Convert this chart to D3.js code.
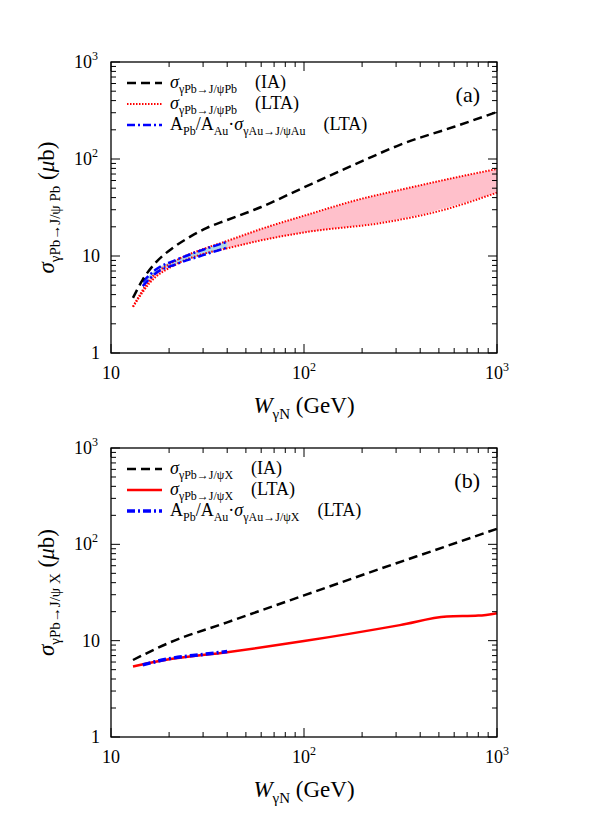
<!DOCTYPE html><html><head><meta charset="utf-8">
<script src="https://cdn.jsdelivr.net/npm/d3@7"></script>
<style>body{margin:0;background:#fff}</style></head><body>
<script>
const aW_IA=[13,14.6,17,21,26,31.4,40,60,100,200,314,600,1000], aIA=[3.7,5.7,8.5,12.2,16,19.5,23.5,32,51,95,140,215,305];
const aW_up=[13,15.9,22,30,40,60,100,200,314,600,1000], aUp=[3.0,5.7,9.1,11.8,14.3,19,26,39,48,64,79];
const aW_lo=[13,15.9,22,30,40,60,100,270,500,1000], aLo=[3.0,5.3,8.3,10.5,12,14.5,17.5,22.4,29,45];
const aW_bl=[14.6,17,22,30,40], aBlUp=[5.4,7.2,9.2,11.6,14.0], aBlLo=[4.9,6.6,8.3,10.2,12.2];
const bW_IA=[13,20,40,100,250,525,1000], bIA=[6.3,9.5,15.5,29.5,56,93,145];
const bW_LTA=[13,20,40,100,314,550,800,1000], bLTA=[5.4,6.4,7.6,9.9,14.5,17.8,18.2,19.3];
const bW_bl=[14.6,20,30,40], bBl=[5.6,6.5,7.2,7.7];
const xTicks=[10,100,1000], yTicks=[1,10,100,1000];

const svg=d3.select("body").append("svg").attr("width",608).attr("height",829)
  .attr("font-family","'Liberation Serif','DejaVu Serif','Times New Roman',serif");
const z=(a,b)=>a.map((w,i)=>[w,b[i]]);
function panel(top,bottom,tag,sub,legend,draw){
  const x=d3.scaleLog().domain([10,1000]).range([111,497]);
  const y=d3.scaleLog().domain([1,1000]).range([bottom,top]);
  const g=svg.append("g");
  const line=d3.line().x(d=>x(d[0])).y(d=>y(d[1])).curve(d3.curveMonotoneX);
  draw(g,x,y,line);
  g.append("rect").attr("x",111).attr("y",top).attr("width",386).attr("height",bottom-top).attr("fill","none").attr("stroke","#000").attr("stroke-width",1.3);
  const minorX=[];for(let d=10;d<1000;d*=10)for(let k=2;k<10;k++)minorX.push(d*k);
  const minorY=[];for(let d=1;d<1000;d*=10)for(let k=2;k<10;k++)minorY.push(d*k);
  xTicks.forEach(t=>{[[bottom,-1],[top,1]].forEach(([yy,s])=>g.append("line").attr("x1",x(t)).attr("x2",x(t)).attr("y1",yy).attr("y2",yy+s*9).attr("stroke","#000"));});
  minorX.forEach(t=>{[[bottom,-1],[top,1]].forEach(([yy,s])=>g.append("line").attr("x1",x(t)).attr("x2",x(t)).attr("y1",yy).attr("y2",yy+s*5).attr("stroke","#000"));});
  yTicks.forEach(t=>{[[111,1],[497,-1]].forEach(([xx,s])=>g.append("line").attr("y1",y(t)).attr("y2",y(t)).attr("x1",xx).attr("x2",xx+s*9).attr("stroke","#000"));});
  minorY.forEach(t=>{[[111,1],[497,-1]].forEach(([xx,s])=>g.append("line").attr("y1",y(t)).attr("y2",y(t)).attr("x1",xx).attr("x2",xx+s*5).attr("stroke","#000"));});
  const lab=(t,sel)=>{if(t<100){sel.text(t);}else{sel.text("10");sel.append("tspan").attr("dy",-8).attr("font-size",12).text(Math.log10(t));}};
  xTicks.forEach(t=>{const s=g.append("text").attr("x",x(t)).attr("y",bottom+26).attr("text-anchor","middle").attr("font-size",18);lab(t,s);});
  yTicks.forEach(t=>{const s=g.append("text").attr("x",t<100?100:98).attr("y",y(t)+6).attr("text-anchor","end").attr("font-size",18);lab(t,s);});
  const xl=g.append("text").attr("x",304).attr("y",bottom+60).attr("text-anchor","middle").attr("font-size",23);
  xl.append("tspan").attr("font-style","italic").text("W");xl.append("tspan").attr("font-size",15).attr("dy",6).text("γN");xl.append("tspan").attr("dy",-6).text(" (GeV)");
  const yl=g.append("text").attr("transform",`translate(54,${(top+bottom)/2}) rotate(-90)`).attr("text-anchor","middle").attr("font-size",23);
  yl.append("tspan").attr("font-style","italic").text("σ");yl.append("tspan").attr("font-size",15).attr("dy",6).text(sub);yl.append("tspan").attr("dy",-6).text(" (");yl.append("tspan").attr("font-style","italic").text("μ");yl.append("tspan").text("b)");
  g.append("text").attr("x",480).attr("y",top+40).attr("text-anchor","end").attr("font-size",22).text(tag);
  legend.forEach((L,i)=>{const ly=top+21+i*21;
    g.append("line").attr("x1",127).attr("x2",162).attr("y1",ly).attr("y2",ly).attr("stroke",L.c).attr("stroke-width",L.w).attr("stroke-dasharray",L.d);
    const t=g.append("text").attr("x",170).attr("y",ly+5).attr("font-size",18);
    let cur=0;
    L.t.forEach(p=>{const [txt,it,isSub,dx]=p;const s=t.append("tspan").text(txt);
      if(it)s.attr("font-style","italic");
      if(isSub)s.attr("font-size",12);
      const want=isSub?5:0; if(want!==cur){s.attr("dy",want-cur);cur=want;}
      if(dx)s.attr("dx",dx);});
  });
}
panel(62,353,"(a)","γPb→J/ψ Pb",[
  {c:"#000",w:2.5,d:"9,5",t:[["σ",1],["γPb→J/ψPb",0,1],["(IA)",0,0,18]]},
  {c:"red",w:2,d:"1.5,1.5",t:[["σ",1],["γPb→J/ψPb",0,1],["(LTA)",0,0,18]]},
  {c:"blue",w:2.5,d:"8,3,2,3",t:[["A"],["Pb",0,1],["/A"],["Au",0,1],["·"],["σ",1],["γAu→J/ψAu",0,1],["(LTA)",0,0,18]]}
],(g,x,y,line)=>{
  const area=d3.area().x(d=>x(d[0])).y0(d=>y(d[2])).y1(d=>y(d[1])).curve(d3.curveMonotoneX);
  const loI=d3.scaleLog().domain(aW_lo).range(aLo);
  g.append("path").attr("d",area(aW_up.map((w,i)=>[w,aUp[i],loI(w)]))).attr("fill","pink");
  g.append("path").attr("d",area(aW_bl.map((w,i)=>[w,aBlUp[i],aBlLo[i]]))).attr("fill","lightblue");
  [[aW_up,aUp],[aW_lo,aLo]].forEach(([w,v])=>g.append("path").attr("d",line(z(w,v))).attr("fill","none").attr("stroke","red").attr("stroke-width",2).attr("stroke-dasharray","1.5,1.5"));
  [aBlUp,aBlLo].forEach(v=>g.append("path").attr("d",line(z(aW_bl,v))).attr("fill","none").attr("stroke","blue").attr("stroke-width",2.5).attr("stroke-dasharray","8,3,2,3"));
  g.append("path").attr("d",line(z(aW_IA,aIA))).attr("fill","none").attr("stroke","#000").attr("stroke-width",2.5).attr("stroke-dasharray","9,5");
});
panel(448,737,"(b)","γPb→J/ψ X",[
  {c:"#000",w:2.5,d:"9,5",t:[["σ",1],["γPb→J/ψX",0,1],["(IA)",0,0,18]]},
  {c:"red",w:2.5,d:null,t:[["σ",1],["γPb→J/ψX",0,1],["(LTA)",0,0,18]]},
  {c:"blue",w:3.5,d:"8,3,2,3",t:[["A"],["Pb",0,1],["/A"],["Au",0,1],["·"],["σ",1],["γAu→J/ψX",0,1],["(LTA)",0,0,18]]}
],(g,x,y,line)=>{
  g.append("path").attr("d",line(z(bW_LTA,bLTA))).attr("fill","none").attr("stroke","red").attr("stroke-width",2.5);
  g.append("path").attr("d",line(z(bW_bl,bBl))).attr("fill","none").attr("stroke","blue").attr("stroke-width",3.5).attr("stroke-dasharray","8,3,2,3");
  g.append("path").attr("d",line(z(bW_IA,bIA))).attr("fill","none").attr("stroke","#000").attr("stroke-width",2.5).attr("stroke-dasharray","9,5");
});
</script></body></html>
